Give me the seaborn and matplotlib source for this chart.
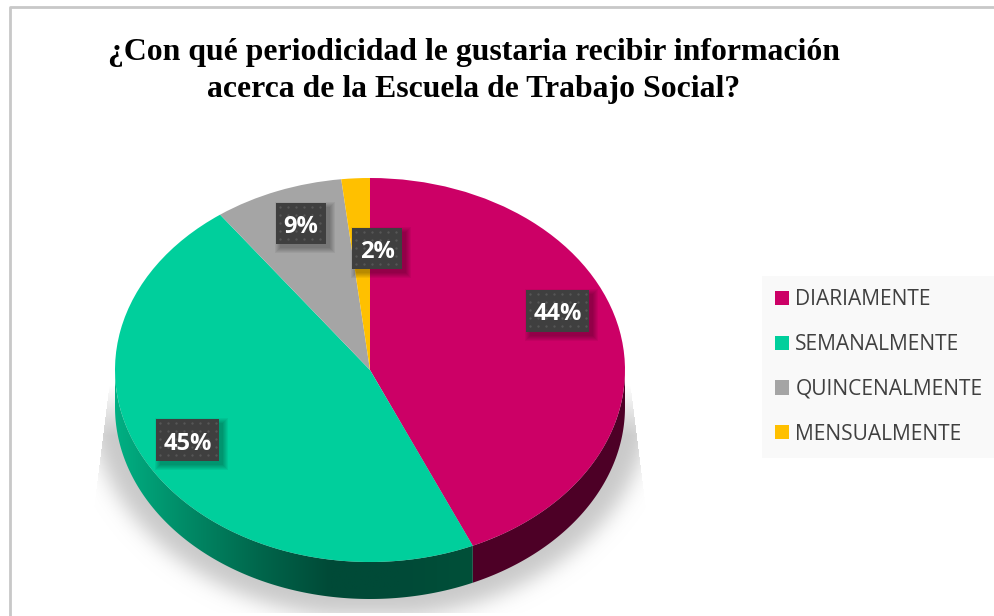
import numpy as np
import matplotlib
matplotlib.use("Agg")
import matplotlib.pyplot as plt
import seaborn as sns
from matplotlib.patches import Rectangle, Polygon
from matplotlib.colors import LinearSegmentedColormap

# Chart data
categories = ["DIARIAMENTE", "SEMANALMENTE", "QUINCENALMENTE", "MENSUALMENTE"]
percent_labels = [44, 45, 9, 2]
# slice sizes as drawn in the picture (tilted view, so not exactly the printed labels)
slice_shares = [43.4, 46.6, 8.2, 1.8]
colors = ["#CC0066", "#00CF9C", "#A5A5A5", "#FFC000"]
title = "¿Con qué periodicidad le gustaria recibir información\nacerca de la Escuela de Trabajo Social?"

W, H = 995, 616
CX, CY, RX, RY = 370, 370, 255, 192
DEPTH = 37

sns.set_theme(style="white")
palette = sns.color_palette(colors)

fig = plt.figure(figsize=(W / 100, H / 100), dpi=100, facecolor="white")

# background layer in pixel coordinates
bg = fig.add_axes([0, 0, 1, 1], zorder=0)
bg.set_xlim(0, W)
bg.set_ylim(H, 0)
bg.axis("off")


# Soft shadow under the pie
def blur(a, sigma):
    k = np.exp(-0.5 * (np.arange(-40, 41) / sigma) ** 2)
    k /= k.sum()
    a = np.apply_along_axis(lambda r: np.convolve(r, k, mode="same"), 0, a)
    return np.apply_along_axis(lambda r: np.convolve(r, k, mode="same"), 1, a)


yy, xx = np.mgrid[0:H, 0:W]
alpha = blur((((xx - CX) / 280.0) ** 2 + ((yy - 400) / 218.0) ** 2 < 1).astype(float), 10)
alpha *= np.clip((yy - 385) / 50.0, 0, 1)
alpha *= yy < 613
slant = (yy - 400) * 10 / 80.0
alpha *= (xx > 107 - slant) & (xx < 632 + slant)
shadow = np.zeros((H, W, 4))
shadow[..., :3] = 0.79
shadow[..., 3] = alpha
bg.imshow(shadow, extent=(0, W, H, 0), aspect="auto", zorder=1)

# Chart frame, no line on the right or bottom
bg.plot([10, 10, W], [H, 7, 7], color="#c8c8c8", lw=2, zorder=2)

# Pie layer, unit circle stretched into an ellipse
ax = fig.add_axes([0, 0, 1, 1], zorder=1)
ax.patch.set_alpha(0)
wedges, _ = ax.pie(
    slice_shares, colors=palette, startangle=90, counterclock=False, radius=1,
    wedgeprops={"linewidth": 0, "edgecolor": "none"},
)
ax.set_aspect("auto")
ax.axis("off")

# Side wall of the pie
d = DEPTH / RY
edges = np.cumsum([0] + slice_shares) / sum(slice_shares) * 360.0


def wall(start, stop):
    t = np.radians(np.linspace(start, stop, 200))
    x, y = np.sin(t), np.cos(t)
    return np.r_[x, x[::-1]], np.r_[y, y[::-1] - d]


wx, wy = wall(90, edges[1])
ax.add_patch(Polygon(np.c_[wx, wy], fc="#4d0026", ec="none", zorder=0))

wx, wy = wall(edges[1], 270)
green_wall = Polygon(np.c_[wx, wy], fc="none", ec="none", zorder=0)
ax.add_patch(green_wall)
wall_cmap = LinearSegmentedColormap.from_list(
    "wall", ["#00B083", "#008A66", "#00674C", "#004A37", "#004A37", "#005039"]
)
im = ax.imshow(
    np.linspace(0, 1, 256)[None, :],
    cmap=wall_cmap,
    extent=(-1, np.sin(np.radians(edges[1])), -1.3, 0),
    aspect="auto",
    zorder=0,
)
im.set_clip_path(green_wall)
ax.set_xlim(-CX / RX, (W - CX) / RX)
ax.set_ylim((CY - H) / RY, CY / RY)

# Top layer in pixel coordinates
top = fig.add_axes([0, 0, 1, 1], zorder=2)
top.patch.set_alpha(0)
top.set_xlim(0, W)
top.set_ylim(H, 0)
top.axis("off")

top.text(
    473.5, 71, title, ha="center", va="center", color="black", fontsize=22.9,
    fontweight="bold", family="Liberation Serif", linespacing=1.32,
)

# Data labels, dark dotted boxes
label_boxes = [(526, 290, 63, 42), (156, 419, 63, 42), (276, 203, 50, 41), (352, 228, 50, 41)]
for v, (x, y, w, h) in zip(percent_labels, label_boxes):
    for i in range(1, 7):
        top.add_patch(
            Rectangle((x + 5 - i, y + 5 - i), w + 2 * i - 2, h + 2 * i - 2,
                      fc="black", ec="none", alpha=0.05, zorder=3)
        )
    top.add_patch(Rectangle((x, y), w, h, fc="#3F3F3F", ec="none", zorder=4))
    dx, dy = np.meshgrid(np.arange(x + 4, x + w, 8), np.arange(y + 4, y + h, 8))
    top.scatter(dx.ravel(), dy.ravel(), s=3, color="#565656", linewidths=0, zorder=5)
    top.text(x + w / 2, y + h / 2 + 3.5, f"{v}%", ha="center", va="center", color="white",
             fontsize=17, fontweight="bold", family="Open Sans", zorder=6)

leg = top.legend(
    wedges, categories,
    loc="upper left", bbox_to_anchor=(762 / W, 1 - 276 / H), borderaxespad=0,
    frameon=True, fancybox=False, facecolor="#F9F9F9", edgecolor="none", framealpha=1,
    prop={"family": "Open Sans", "size": 15.1},
    handlelength=0.67, handleheight=0.67, handletextpad=0.28,
    labelspacing=1.13, borderpad=0.64, labelcolor="#404040",
)

fig.savefig("out.png", dpi=100)
